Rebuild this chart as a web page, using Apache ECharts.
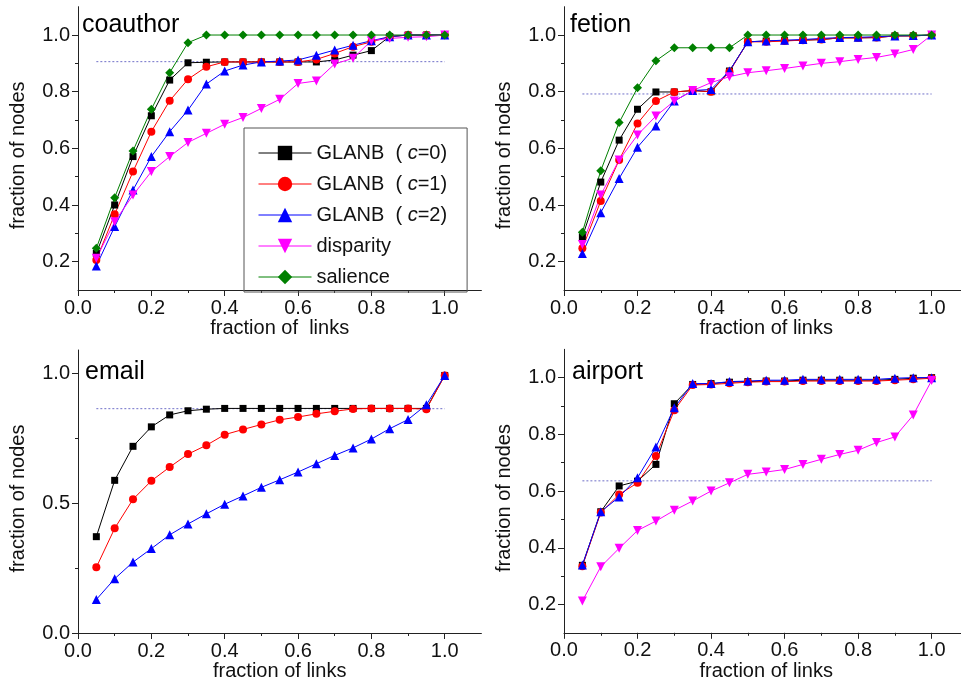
<!DOCTYPE html>
<html>
<head>
<meta charset="utf-8">
<title>fraction of nodes vs fraction of links</title>
<script src="https://cdn.jsdelivr.net/npm/echarts@6/dist/echarts.min.js"></script>
<style>
  html, body { margin: 0; padding: 0; background: #fff; }
  #chart { width: 961px; height: 680px; }
</style>
</head>
<body>
<div id="chart"></div>
<script>
  // x values, same for every panel
  var fracLinks = [0.05, 0.10, 0.15, 0.20, 0.25, 0.30, 0.35, 0.40, 0.45, 0.50,
                   0.55, 0.60, 0.65, 0.70, 0.75, 0.80, 0.85, 0.90, 0.95, 1.00];

  // tick labels
  var xTicks = [0, 0.2, 0.4, 0.6, 0.8, 1.0];
  var xMinorTicks = [0.1, 0.3, 0.5, 0.7, 0.9];
  var yTicks = [0.2, 0.4, 0.6, 0.8, 1.0];
  var yMinorTicks = [0.3, 0.5, 0.7, 0.9];
  var yTicksEmail = [0, 0.5, 1.0];
  var yMinorTicksEmail = [0.25, 0.75];

  // coauthor
  var coauthorC0 = [0.229, 0.400, 0.571, 0.715, 0.841, 0.902, 0.904, 0.905, 0.905, 0.905,
                    0.905, 0.905, 0.905, 0.912, 0.929, 0.945, 0.995, 1.000, 1.000, 1.000];
  var coauthorC1 = [0.206, 0.367, 0.518, 0.659, 0.768, 0.844, 0.888, 0.905, 0.905, 0.905,
                    0.905, 0.905, 0.914, 0.935, 0.959, 0.976, 0.994, 1.000, 1.000, 1.000];
  var coauthorC2 = [0.185, 0.324, 0.453, 0.571, 0.659, 0.735, 0.827, 0.873, 0.894, 0.905,
                    0.908, 0.912, 0.929, 0.947, 0.964, 0.980, 0.994, 1.000, 1.000, 1.000];
  var coauthorDisparity = [0.212, 0.341, 0.435, 0.518, 0.571, 0.621, 0.653, 0.685, 0.709, 0.741,
                           0.773, 0.829, 0.838, 0.898, 0.918, 0.980, 0.988, 0.992, 0.994, 1.000];
  var coauthorSalience = [0.247, 0.426, 0.591, 0.738, 0.867, 0.973, 1.000, 1.000, 1.000, 1.000,
                          1.000, 1.000, 1.000, 1.000, 1.000, 1.000, 1.000, 1.000, 1.000, 1.000];
  var coauthorRef = 0.906;

  // fetion
  var fetionC0 = [0.288, 0.481, 0.629, 0.738, 0.799, 0.799, 0.804, 0.800, 0.873, 0.976,
                  0.979, 0.980, 0.982, 0.984, 0.990, 0.990, 0.991, 0.997, 0.997, 1.000];
  var fetionC1 = [0.247, 0.414, 0.559, 0.688, 0.767, 0.799, 0.804, 0.800, 0.870, 0.976,
                  0.976, 0.979, 0.982, 0.984, 0.990, 0.990, 0.991, 0.997, 0.997, 1.000];
  var fetionC2 = [0.229, 0.373, 0.494, 0.604, 0.679, 0.767, 0.804, 0.808, 0.873, 0.976,
                  0.979, 0.982, 0.984, 0.988, 0.991, 0.992, 0.994, 0.997, 0.998, 1.000];
  var fetionDisparity = [0.261, 0.435, 0.559, 0.647, 0.714, 0.767, 0.804, 0.832, 0.853, 0.867,
                         0.874, 0.882, 0.891, 0.900, 0.906, 0.914, 0.921, 0.933, 0.949, 1.000];
  var fetionSalience = [0.304, 0.521, 0.691, 0.814, 0.909, 0.955, 0.955, 0.955, 0.955, 1.000,
                        1.000, 1.000, 1.000, 1.000, 1.000, 1.000, 1.000, 1.000, 1.000, 1.000];
  var fetionRef = 0.792;

  // email
  var emailC0 = [0.371, 0.588, 0.719, 0.794, 0.840, 0.856, 0.862, 0.865, 0.865, 0.865,
                 0.865, 0.865, 0.865, 0.865, 0.865, 0.865, 0.865, 0.865, 0.865, 0.992];
  var emailC1 = [0.253, 0.403, 0.515, 0.586, 0.639, 0.689, 0.723, 0.764, 0.784, 0.803,
                 0.821, 0.832, 0.844, 0.854, 0.863, 0.865, 0.865, 0.865, 0.862, 0.992];
  var emailC2 = [0.129, 0.209, 0.273, 0.325, 0.378, 0.420, 0.459, 0.496, 0.528, 0.561,
                 0.590, 0.620, 0.652, 0.684, 0.713, 0.747, 0.787, 0.822, 0.879, 0.992];
  var emailRef = 0.864;

  // airport
  var airportC0 = [0.338, 0.527, 0.618, 0.635, 0.694, 0.908, 0.976, 0.979, 0.984, 0.986,
                   0.988, 0.988, 0.991, 0.991, 0.991, 0.991, 0.991, 0.994, 0.998, 1.000];
  var airportC1 = [0.335, 0.524, 0.588, 0.629, 0.724, 0.885, 0.974, 0.976, 0.980, 0.984,
                   0.986, 0.986, 0.988, 0.988, 0.988, 0.988, 0.988, 0.991, 0.994, 0.998];
  var airportC2 = [0.339, 0.527, 0.579, 0.647, 0.755, 0.894, 0.979, 0.979, 0.986, 0.988,
                   0.991, 0.991, 0.994, 0.994, 0.994, 0.994, 0.994, 0.998, 1.000, 1.000];
  var airportDisparity = [0.212, 0.333, 0.398, 0.461, 0.494, 0.532, 0.565, 0.600, 0.629, 0.659,
                          0.667, 0.676, 0.694, 0.712, 0.729, 0.744, 0.771, 0.791, 0.868, 0.990];
  var airportRef = 0.636;

  var FONT = '"Liberation Sans", Arial, Helvetica, sans-serif';

  var methods = {
    c0: { name: 'GLANB c=0', color: '#000000', symbol: 'rect', size: 7 },
    c1: { name: 'GLANB c=1', color: '#ff0000', symbol: 'circle', size: 8 },
    c2: { name: 'GLANB c=2', color: '#0000ff', symbol: 'triangle', size: 9 },
    disparity: { name: 'disparity', color: '#ff00ff', symbol: 'path://M0,0L10,0L5,9Z', size: 9 },
    salience: { name: 'salience', color: '#008000', symbol: 'diamond', size: 9 }
  };

  var panels = [
    { grid: { left: 78, top: 6.7, width: 403.4, height: 283.3 }, xName: 'fraction of  links',
      yMin: 0.1, yMax: 1.1, yMajor: yTicks, yMinor: yMinorTicks, ref: coauthorRef,
      lines: [['c0', coauthorC0], ['c1', coauthorC1], ['c2', coauthorC2],
              ['disparity', coauthorDisparity], ['salience', coauthorSalience]] },
    { grid: { left: 564, top: 6.7, width: 404.4, height: 283.3 }, xName: 'fraction of links',
      yMin: 0.1, yMax: 1.1, yMajor: yTicks, yMinor: yMinorTicks, ref: fetionRef,
      lines: [['c0', fetionC0], ['c1', fetionC1], ['c2', fetionC2],
              ['disparity', fetionDisparity], ['salience', fetionSalience]] },
    { grid: { left: 78, top: 350, width: 403.4, height: 283 }, xName: 'fraction of links',
      yMin: 0, yMax: 1.09, yMajor: yTicksEmail, yMinor: yMinorTicksEmail, ref: emailRef,
      lines: [['c0', emailC0], ['c1', emailC1], ['c2', emailC2]] },
    { grid: { left: 564, top: 349.3, width: 404.4, height: 283.5 }, xName: 'fraction of links',
      yMin: 0.1, yMax: 1.1, yMajor: yTicks, yMinor: yMinorTicks, ref: airportRef,
      lines: [['c0', airportC0], ['c1', airportC1], ['c2', airportC2],
              ['disparity', airportDisparity]] }
  ];

  var axisColor = '#222';
  var textStyle = { fontFamily: FONT, fontSize: 20, color: '#111' };

  function makeAxis(kind, gi, p, minor) {
    var isX = kind === 'x';
    var ax = {
      type: 'value',
      gridIndex: gi,
      position: isX ? 'bottom' : 'left',
      min: isX ? 0 : p.yMin,
      max: isX ? 1.1 : p.yMax,
      splitLine: { show: false },
      axisLine: { show: !minor, onZero: false, lineStyle: { color: axisColor, width: 1 } },
      axisTick: {
        show: true,
        length: minor ? 3 : 6,
        customValues: minor ? (isX ? xMinorTicks : p.yMinor) : (isX ? xTicks : p.yMajor),
        lineStyle: { color: axisColor, width: 1 }
      },
      axisLabel: {
        show: !minor,
        customValues: isX ? xTicks : p.yMajor,
        formatter: function (v) { return v.toFixed(1); },
        margin: 8,
        fontFamily: FONT, fontSize: 20, color: '#111'
      }
    };
    if (!minor) {
      ax.name = isX ? p.xName : 'fraction of nodes';
      ax.nameLocation = 'middle';
      ax.nameGap = isX ? 26 : 50;
      ax.nameTextStyle = isX ? textStyle
        : { fontFamily: FONT, fontSize: 20, color: '#111', padding: [0, 14, 0, 0] };
    }
    return ax;
  }

  var grids = [], xAxes = [], yAxes = [], series = [];
  panels.forEach(function (p, gi) {
    grids.push(Object.assign({ outerBoundsMode: 'none', containLabel: false }, p.grid));
    xAxes.push(makeAxis('x', gi, p, false));
    xAxes.push(makeAxis('x', gi, p, true));
    yAxes.push(makeAxis('y', gi, p, false));
    yAxes.push(makeAxis('y', gi, p, true));

    // dotted reference level
    series.push({
      type: 'line',
      name: 'level' + gi,
      xAxisIndex: gi * 2,
      yAxisIndex: gi * 2,
      data: [[fracLinks[0], p.ref], [fracLinks[fracLinks.length - 1], p.ref]],
      symbol: 'none',
      silent: true,
      z: 1,
      lineStyle: { color: '#7070c8', width: 1, type: [2, 2] }
    });

    p.lines.forEach(function (entry) {
      var m = methods[entry[0]];
      var vals = entry[1];
      series.push({
        type: 'line',
        name: m.name,
        xAxisIndex: gi * 2,
        yAxisIndex: gi * 2,
        data: fracLinks.map(function (x, i) { return [x, vals[i]]; }),
        symbol: m.symbol,
        symbolSize: m.size,
        showAllSymbol: true,
        z: 3,
        itemStyle: { color: m.color },
        lineStyle: { color: m.color, width: 1 }
      });
    });
  });

  var titles = [
    { text: 'coauthor', left: 82, top: 13 },
    { text: 'fetion', left: 570, top: 13 },
    { text: 'email', left: 85, top: 360 },
    { text: 'airport', left: 572, top: 360 }
  ];

  var chart = echarts.init(document.getElementById('chart'));
  var option = {
    animation: false,
    backgroundColor: '#fff',
    grid: grids,
    xAxis: xAxes,
    yAxis: yAxes,
    series: series,
    legend: {
      data: ['GLANB c=0', 'GLANB c=1', 'GLANB c=2', 'disparity', 'salience'],
      orient: 'vertical',
      left: 244,
      top: 128,
      padding: [15, 20, 5, 14],
      itemWidth: 53,
      itemHeight: 18,
      itemGap: 11,
      selectedMode: false,
      borderColor: '#555',
      borderWidth: 1,
      lineStyle: { width: 1 },
      formatter: function (name) {
        if (name.indexOf('GLANB') === 0) {
          return 'GLANB  ( {i|c}=' + name.slice(-1) + ')';
        }
        return name;
      },
      textStyle: {
        fontFamily: FONT, fontSize: 20, color: '#111',
        rich: { i: { fontFamily: FONT, fontSize: 20, fontStyle: 'italic', color: '#111' } }
      }
    },
    graphic: titles.map(function (t) {
      return {
        type: 'text', left: t.left, top: t.top,
        style: { text: t.text, font: '25px ' + FONT, fill: '#000' }
      };
    })
  };
  chart.setOption(option);
</script>
</body>
</html>
